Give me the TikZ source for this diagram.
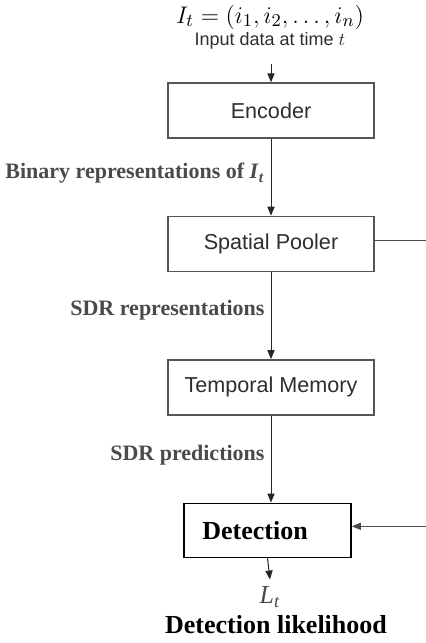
\documentclass[tikz,border=0pt]{standalone}
\usepackage{fontspec}
\setmainfont{Liberation Serif}
\setsansfont{Liberation Sans}
\usepackage{xcolor}
\usepackage{tikz}
\usetikzlibrary{positioning, arrows.meta}

\definecolor{boxgray}{HTML}{555555}
\definecolor{textgray}{HTML}{2E2E2E}
\definecolor{lblgray}{HTML}{4A4A4A}

\begin{document}
\begin{tikzpicture}[node distance=43.5pt, >={Triangle[width=3.6pt,length=4.5pt]},
	box/.style={draw=boxgray, line width=0.7pt, minimum width=103pt, minimum height=27.5pt, inner sep=0pt, text=textgray, font=\sffamily\fontsize{10.8}{12}\selectfont},
	lbl/.style={text=lblgray, inner sep=3pt, font=\bfseries\fontsize{11}{13}\selectfont},
	flow/.style={->, line width=0.5pt, draw=black!85}]
	
	\useasboundingbox (0,0) rectangle (213pt,-321.5pt);
	\coordinate (edge) at (213pt,0);
	
	% Input
	\node (eq) at (135pt,-8.5pt) {\fontsize{13.2}{15}\selectfont$I_t = (i_1, i_2, \ldots, i_n)$};
	\node (input) [text=textgray, font=\sffamily\fontsize{9}{10}\selectfont] at (135pt,-20.5pt) {Input data at time $t$};
	
	% Draw rectangles
	\node (enc) [box] at (135.5pt,-55.25pt) {Encoder};
	\node (sp) [box, below=38.5pt of enc] {Spatial Pooler};
	\node (tm) [box, below=of sp] {Temporal Memory};
	\node (det) [box, draw=black, line width=0.8pt, minimum width=83.5pt, minimum height=27pt, text=black, font=\bfseries\fontsize{13}{15}\selectfont, below=of tm, xshift=-1.75pt] {Detection\kern12.5pt};
	
	% Output
	\node (lt) [text=lblgray, font=\fontsize{13}{15}\selectfont] at (135pt,-298.5pt) {\textit{L}\textsubscript{\textit{t}}};
	\node (likeli) [font=\bfseries\fontsize{13}{15}\selectfont] at (138pt,-312.5pt) {Detection likelihood};
	
	% Draw arrows
	\draw[flow, shorten <=4pt] (input.south -| enc.north) -- (enc.north);
	\draw[flow] (enc.south) -- node[lbl, left, pos=0.45] {Binary representations of \textit{I}\textsubscript{\textit{t}}} (sp.north);
	\draw[flow] (sp.south) -- node[lbl, left, pos=0.44] {SDR representations} (tm.north);
	\draw[flow] (tm.south) -- node[lbl, left, pos=0.46] {SDR predictions} (tm.south |- det.north);
	\draw[flow] (det.south) -- (lt.north);
	
	% Feedback from the pooler
	\draw[line width=0.5pt, draw=black!70] ([yshift=1.5pt]sp.east) -- ([yshift=1.5pt]sp.east -| edge);
	\draw[flow, draw=black!70] ([yshift=2pt]det.east -| edge) -- ([yshift=2pt]det.east);
	
\end{tikzpicture}
\end{document}
